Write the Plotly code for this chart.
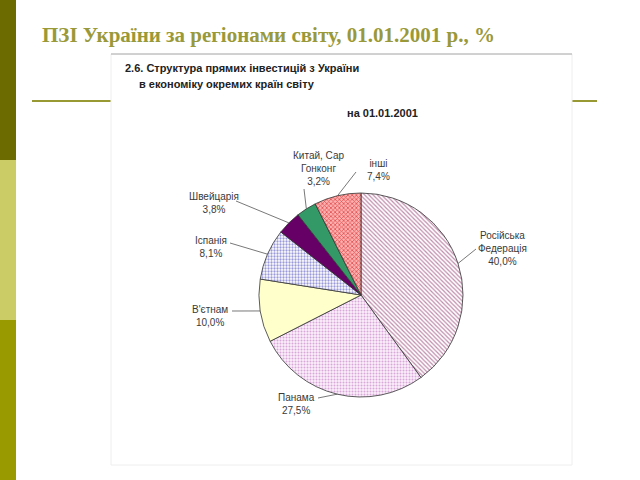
import math
import plotly.graph_objects as go

# ---------------- data ----------------
categories = ["Російська Федерація", "Панама", "В'єтнам", "Іспанія",
              "Швейцарія", "Китай, Сар Гонконг", "інші"]
label_lines = [["Російська", "Федерація"], ["Панама"], ["В'єтнам"], ["Іспанія"],
               ["Швейцарія"], ["Китай, Сар", "Гонконг"], ["інші"]]
values = [40.0, 27.5, 10.0, 8.1, 3.8, 3.2, 7.4]

slide_title = "ПЗІ України за регіонами світу, 01.01.2001 р., %"
chart_title_1 = "2.6. Структура прямих інвестицій з України"
chart_title_2 = "в економіку окремих країн світу"
chart_date = "на 01.01.2001"

# ---------------- styles ----------------
W, H = 640, 480
bg_colors = ["#ffffff", "#fbeefb", "#ffffcc", "#ffffff", "#660066", "#339966", "#ffb0b0"]
fg_colors = ["#c08cac", "#d8a8d8", "#ffffcc", "#9a9ad8", "#660066", "#339966", "#e05050"]
shapes_pat = ["\\", ".", "", ".", "", "", "x"]
pat_size = [3, 3, 4, 3, 4, 4, 3]
pat_sol = [0.4, 0.35, 0.3, 0.45, 0.3, 0.3, 0.45]

# label anchor positions in pixels (text centre) and leader-line end points
label_pos = [(502, 248), (296, 404), (210, 316), (211, 247), (214, 203), (318, 168), (378, 170)]
line_end = [(476, 249), (318, 398), (232, 311), (230, 243), (236, 201), (304, 189), (356, 172)]

def px(x):
    return x / W

def py(y):
    return 1 - y / H

# pie domain (pixels)
pie_l, pie_r, pie_t, pie_b = 259, 463, 193, 397
cx, cy = (pie_l + pie_r) / 2, (pie_t + pie_b) / 2
R = (pie_r - pie_l) / 2

fig = go.Figure()
fig.add_trace(go.Pie(
    labels=categories, values=values, sort=False, direction="clockwise", rotation=0,
    textinfo="none", hoverinfo="label+percent",
    marker=dict(colors=bg_colors, line=dict(color="#333333", width=0.8),
                pattern=dict(shape=shapes_pat, fgcolor=fg_colors, bgcolor=bg_colors,
                             size=pat_size, solidity=pat_sol)),
    domain=dict(x=[px(pie_l), px(pie_r)], y=[py(pie_b), py(pie_t)]),
    showlegend=False,
))

shapes = []
# left coloured bar
shapes.append(dict(type="rect", xref="paper", yref="paper", x0=0, x1=px(16), y0=py(160), y1=py(0),
                   fillcolor="#6b6b00", line=dict(width=0), layer="below"))
shapes.append(dict(type="rect", xref="paper", yref="paper", x0=0, x1=px(16), y0=py(320), y1=py(160),
                   fillcolor="#cccc66", line=dict(width=0), layer="below"))
shapes.append(dict(type="rect", xref="paper", yref="paper", x0=0, x1=px(16), y0=py(480), y1=py(320),
                   fillcolor="#999900", line=dict(width=0), layer="below"))
# olive rule
shapes.append(dict(type="line", xref="paper", yref="paper", x0=px(32), x1=px(597), y0=py(101), y1=py(101),
                   line=dict(color="#999933", width=2), layer="below"))
# chart picture box
shapes.append(dict(type="rect", xref="paper", yref="paper", x0=px(111), x1=px(572), y0=py(465), y1=py(54),
                   fillcolor="#ffffff", line=dict(color="#eeeeee", width=1), layer="below"))
shapes.append(dict(type="line", xref="paper", yref="paper", x0=px(111), x1=px(572), y0=py(54), y1=py(54),
                   line=dict(color="#aaaaaa", width=1), layer="below"))

annotations = []
total = sum(values)
cum = 0.0
for i, v in enumerate(values):
    mid = (cum + v / 2) / total * 2 * math.pi
    cum += v
    sx = cx + R * math.sin(mid)
    sy = cy - R * math.cos(mid)
    ex, ey = line_end[i]
    shapes.append(dict(type="line", xref="paper", yref="paper",
                       x0=px(sx), y0=py(sy), x1=px(ex), y1=py(ey),
                       line=dict(color="#555555", width=0.8)))
    pct = f"{v:.1f}".replace(".", ",") + "%"
    txt = "<br>".join(label_lines[i] + [pct])
    lx, ly = label_pos[i]
    annotations.append(dict(x=px(lx), y=py(ly), xref="paper", yref="paper", text=txt,
                            showarrow=False, xanchor="center", yanchor="middle", align="center",
                            font=dict(family="Liberation Sans, Arial", size=10, color="#3a3a3a")))

annotations.append(dict(x=px(40), y=py(35), xref="paper", yref="paper", text="<b>" + slide_title + "</b>",
                        showarrow=False, xanchor="left", yanchor="middle",
                        font=dict(family="Liberation Serif, Times New Roman", size=21, color="#99993a")))
annotations.append(dict(x=px(123), y=py(68), xref="paper", yref="paper", text="<b>" + chart_title_1 + "</b>",
                        showarrow=False, xanchor="left", yanchor="middle",
                        font=dict(family="Liberation Sans, Arial", size=11, color="#222222")))
annotations.append(dict(x=px(137), y=py(84), xref="paper", yref="paper", text="<b>" + chart_title_2 + "</b>",
                        showarrow=False, xanchor="left", yanchor="middle",
                        font=dict(family="Liberation Sans, Arial", size=11, color="#222222")))
annotations.append(dict(x=px(345), y=py(113), xref="paper", yref="paper", text="<b>" + chart_date + "</b>",
                        showarrow=False, xanchor="left", yanchor="middle",
                        font=dict(family="Liberation Sans, Arial", size=11, color="#222222")))

fig.update_layout(width=W, height=H, margin=dict(l=0, r=0, t=0, b=0),
                  paper_bgcolor="#ffffff", plot_bgcolor="#ffffff",
                  shapes=shapes, annotations=annotations)
fig.write_html("out.html")
